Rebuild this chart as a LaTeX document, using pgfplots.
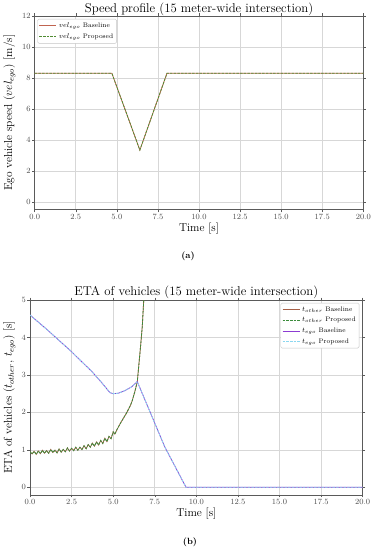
\documentclass[border=0pt]{standalone}
\usepackage{pgfplots}
\usepackage{pgfplotstable}
\pgfplotsset{compat=1.18}
\definecolor{velbase}{RGB}{192,100,80}
\definecolor{velprop}{RGB}{80,140,50}
\definecolor{othbase}{RGB}{165,95,70}
\definecolor{othprop}{RGB}{60,140,60}
\definecolor{egobase}{RGB}{140,60,210}
\definecolor{egoprop}{RGB}{140,215,240}
\definecolor{gridc}{RGB}{215,215,215}
\definecolor{framec}{RGB}{90,90,90}
\pgfplotstableread{
t v
0 0.95
0.125 0.89
0.25 0.96
0.375 0.88
0.5 0.97
0.625 0.90
0.75 0.99
0.875 0.91
1.0 0.98
1.125 0.91
1.25 1.01
1.375 0.93
1.5 0.99
1.625 0.92
1.75 1.02
1.875 0.94
2.0 1.01
2.125 0.95
2.25 1.05
2.375 0.97
2.5 1.04
2.625 0.98
2.75 1.07
2.875 0.99
3.0 1.07
3.125 1.01
3.25 1.11
3.375 1.03
3.5 1.14
3.625 1.07
3.75 1.18
3.875 1.10
4.0 1.21
4.125 1.13
4.25 1.25
4.375 1.17
4.5 1.31
4.625 1.22
4.75 1.36
4.875 1.30
5.0 1.48
5.1 1.42
5.25 1.56
5.5 1.76
5.8 1.98
6.05 2.2
6.15 2.32
6.3 2.55
6.45 2.82
6.55 3.3
6.65 3.78
6.75 4.3
6.85 5.1
6.9 5.6
}\tother
\pgfplotstableread{
t v
0 4.6
1 4.22
2 3.82
2.5 3.62
3 3.4
3.7 3.1
4.3 2.8
4.8 2.53
5.0 2.5
5.3 2.51
5.7 2.58
6.1 2.68
6.45 2.82
7.2 2.03
8.1 1.08
9.38 0
20 0
}\tego
\pgfplotsset{
  common/.style={
    scale only axis,
    xmin=0, xmax=20,
    xtick={0,2.5,5,7.5,10,12.5,15,17.5,20},
    xticklabel style={/pgf/number format/fixed,/pgf/number format/fixed zerofill,/pgf/number format/precision=1},
    grid=major,
    major grid style={gridc, line width=0.6pt},
    axis line style={framec, line width=0.6pt},
    tick align=outside,
    major tick length=2.5bp,
    tick style={framec, line width=0.5pt},
    ticklabel style={font=\fontsize{7.8}{8}\selectfont, color=black!70, inner sep=1.5pt},
    label style={font=\fontsize{11.5}{12}\selectfont},
    xlabel style={inner sep=2.5pt},
    legend style={font=\fontsize{6.6}{7.5}\selectfont, draw=gray!45, rounded corners=1.5pt, fill=white, inner sep=1.5pt, row sep=0.6pt},
    legend cell align=left,
    every axis plot/.append style={line width=0.8pt},
  }
}
\begin{document}
\begin{tikzpicture}
\path[use as bounding box] (0,0) rectangle (374bp,-550bp);
% ---------- (a) ----------
\begin{axis}[common,
  at={(34.7bp,-209.75bp)}, anchor=south west,
  width=328.6bp, height=193.75bp,
  ymin=-0.5, ymax=12,
  ytick={0,2,4,6,8,10,12},
  xlabel={Time [s]},
  ylabel={Ego vehicle speed ($vel_{ego}$) [m/s]},
  ylabel style={at={(axis description cs:-0.077,0.5)}, anchor=center},
  legend style={at={(0.008,0.985)}, anchor=north west},
]
\addplot[velbase, solid] coordinates {(0,8.3) (4.7,8.3) (6.4,3.35) (8.05,8.3) (20,8.3)};
\addlegendentry{$vel_{ego}$ Baseline}
\addplot[velprop, dash pattern=on 2.5pt off 1.2pt] coordinates {(0,8.3) (4.7,8.3) (6.4,3.35) (8.05,8.3) (20,8.3)};
\addlegendentry{$vel_{ego}$ Proposed}
\end{axis}
\node[anchor=base, font=\fontsize{12.8}{14}\selectfont, inner sep=0pt] at (199bp,-12.7bp) {Speed profile (15 meter-wide intersection)};
\node[font=\bfseries\fontsize{9}{10}\selectfont] at (188bp,-256.5bp) {(a)};
% ---------- (b) ----------
\begin{axis}[common,
  at={(30bp,-494.8bp)}, anchor=south west,
  width=332.7bp, height=194.8bp,
  ymin=-0.2, ymax=5,
  ytick={0,1,2,3,4,5},
  xlabel={Time [s]},
  ylabel={ETA of vehicles ($t_{other}$, $t_{ego}$) [s]},
  ylabel style={at={(axis description cs:-0.062,0.5)}, anchor=center},
  legend style={at={(0.99,0.985)}, anchor=north east},
]
\addplot[othbase, solid] table[x=t,y=v] {\tother};
\addlegendentry{$t_{other}$ Baseline}
\addplot[othprop, dash pattern=on 2.5pt off 1.2pt] table[x=t,y=v] {\tother};
\addlegendentry{$t_{other}$ Proposed}
\addplot[egobase, solid] table[x=t,y=v] {\tego};
\addlegendentry{$t_{ego}$ Baseline}
\addplot[egoprop, dash pattern=on 2.5pt off 1.2pt] table[x=t,y=v] {\tego};
\addlegendentry{$t_{ego}$ Proposed}
\end{axis}
\node[anchor=base, font=\fontsize{12.8}{14}\selectfont, inner sep=0pt] at (196.3bp,-295.7bp) {ETA of vehicles (15 meter-wide intersection)};
\node[font=\bfseries\fontsize{9}{10}\selectfont] at (190bp,-542bp) {(b)};
\end{tikzpicture}
\end{document}
